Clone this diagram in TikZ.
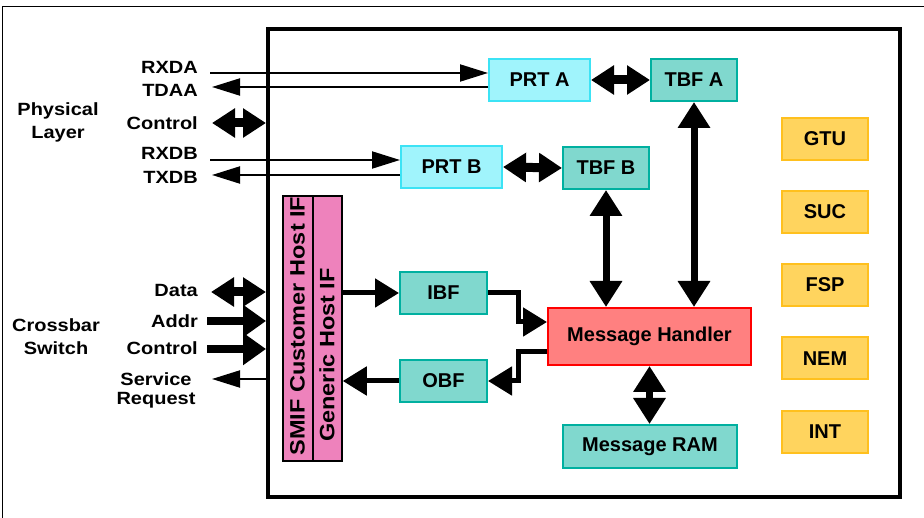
\documentclass[tikz,border=0pt]{standalone}
\usepackage{fontspec}
\setmainfont{Liberation Sans}
\newfontfamily\lblfont[FakeStretch=1.13]{Liberation Sans}
\usetikzlibrary{arrows.meta}
\definecolor{prtfill}{HTML}{A0F4FC}
\definecolor{prtline}{HTML}{3CE3F5}
\definecolor{tbffill}{HTML}{80D8CE}
\definecolor{tbfline}{HTML}{00B0A0}
\definecolor{pinkfill}{HTML}{EE82BC}
\definecolor{mhfill}{HTML}{FF8080}
\definecolor{mhline}{HTML}{FF0000}
\definecolor{yelfill}{HTML}{FFD45E}
\definecolor{yelline}{HTML}{FFC01E}
\begin{document}
\begin{tikzpicture}[x=1pt,y=-1pt,
  box/.style={draw, line width=2pt, inner sep=0pt, font=\fontsize{20}{24}\selectfont\bfseries},
  prtbox/.style={box, draw=prtline, fill=prtfill, minimum width=101pt, minimum height=42pt},
  tbfbox/.style={box, draw=tbfline, fill=tbffill, minimum width=86pt, minimum height=42pt},
  bufbox/.style={box, draw=tbfline, fill=tbffill, minimum width=87pt, minimum height=42pt},
  yelbox/.style={box, draw=yelline, fill=yelfill, minimum width=86pt, minimum height=42pt},
  barbox/.style={draw=black, line width=1.5pt, fill=pinkfill, inner sep=0pt, minimum height=265pt},
  lbl/.style={font=\lblfont\fontsize{17.7}{23}\selectfont\bfseries, inner sep=0pt},
  vlbl/.style={font=\lblfont\fontsize{20.8}{24}\selectfont\bfseries, inner sep=0pt, rotate=90},
  thinarr/.style={line width=2pt, -{Triangle[length=28pt,width=17pt]}},
  bigarr/.style={line width=8pt, -{Triangle[length=23pt,width=31pt]}},
  dblarr/.style={line width=9pt, {Triangle[length=23pt,width=28pt]}-{Triangle[length=23pt,width=28pt]}},
  vdbl/.style={line width=7pt, {Triangle[length=26pt,width=31pt]}-{Triangle[length=26pt,width=31pt]}},
  elbarr/.style={line width=5pt, -{Triangle[length=24pt,width=28pt]}},
]
\useasboundingbox (0,0) rectangle (924,518);
\fill[white] (0,0) rectangle (924,518);
% outer frame (partly outside the picture)
\draw[line width=1pt] (2.5,518) -- (2.5,7) -- (924,7);
% chip
\node[draw, line width=4pt, minimum width=632pt, minimum height=468pt, inner sep=0pt] (chip) at (584,263) {};

% left labels
\node[lbl, align=center] (phys) at (58,122) {Physical\\Layer};
\node[lbl, anchor=base east] (lrxda) at (198,74) {RXDA};
\node[lbl, anchor=base east] (ltdaa) at (198,96.5) {TDAA};
\node[lbl, anchor=base east] (lctla) at (198,130) {Control};
\node[lbl, anchor=base east] (lrxdb) at (198,159.5) {RXDB};
\node[lbl, anchor=base east] (ltxdb) at (198,183.5) {TXDB};
\node[lbl, align=center] (xbar) at (56,337) {Crossbar\\Switch};
\node[lbl, anchor=base east] (ldata) at (198,297) {Data};
\node[lbl, anchor=base east] (laddr) at (198,328) {Addr};
\node[lbl, anchor=base east] (lctlb) at (198,355) {Control};
\node[lbl, align=center] (lsrq) at (156,390) {Service\\[-4pt]Request};

% boxes
\node[prtbox] (prta) at (539.5,80) {PRT A};
\node[tbfbox] (tbfa) at (694,80) {TBF A};
\node[prtbox] (prtb) at (451.5,167) {PRT B};
\node[tbfbox] (tbfb) at (606,168) {TBF B};
\node[barbox, minimum width=30pt] (smif) at (298,328.5) {};
\node[barbox, minimum width=29pt] (gen) at (327.5,328.5) {};
\node[vlbl] (smift) at (297.5,326) {SMIF Customer Host IF};
\node[vlbl] (gent) at (327,355) {Generic Host IF};
\node[bufbox] (ibf) at (443.5,293) {IBF};
\node[bufbox] (obf) at (443.5,381) {OBF};
\node[box, draw=mhline, fill=mhfill, minimum width=203pt, minimum height=57pt] (mh) at (649.5,336.5) {Message Handler};
\node[box, draw=tbfline, fill=tbffill, minimum width=174pt, minimum height=43pt] (ram) at (650,446.5) {Message RAM};
\node[yelbox] (gtu) at (825,139) {GTU};
\node[yelbox] (suc) at (825,212) {SUC};
\node[yelbox] (fsp) at (825,285) {FSP};
\node[yelbox] (nem) at (825,358.5) {NEM};
\node[yelbox] (int) at (825,432) {INT};

% free ends
\coordinate (rxa) at (210,73);
\coordinate (tda) at (212,87);
\coordinate (ctla) at (212,123);
\coordinate (rxb) at (210,160);
\coordinate (txb) at (212,175);
\coordinate (dat) at (211,292);
\coordinate (adr) at (207,321);
\coordinate (ctlb) at (207,349);
\coordinate (srq) at (212,379);

% physical layer connectors
\draw[thinarr] (rxa) -- (prta.west |- rxa);
\draw[thinarr] (prta.west |- tda) -- (tda);
\draw[dblarr] (ctla) -- (chip.west |- ctla);
\draw[thinarr] (rxb) -- (prtb.west |- rxb);
\draw[thinarr] (prtb.west |- txb) -- (txb);
% crossbar connectors
\draw[dblarr] (dat) -- (chip.west |- dat);
\draw[bigarr] (adr) -- (chip.west |- adr);
\draw[bigarr] (ctlb) -- (chip.west |- ctlb);
\draw[thinarr] (chip.west |- srq) -- (srq);

% internal connectors
\draw[dblarr] (prta.east) -- (tbfa.west);
\draw[dblarr] (prtb.east) -- (tbfb.west);
\draw[vdbl] (tbfa.south) -- (tbfa.south |- mh.north);
\draw[vdbl] (tbfb.south) -- (tbfb.south |- mh.north);
\draw[vdbl] (mh.south |- ram.north) -- (mh.south);
\draw[elbarr] (gen.east |- ibf.west) -- (ibf.west);
\draw[elbarr] (obf.west) -- (gen.east |- obf.west);
\draw[elbarr] (ibf.east) -| (518,322) -- (mh.west |- 518,322);
\draw[elbarr] (mh.west |- 518,352) -| (518,381) -- (obf.east);
\end{tikzpicture}
\end{document}
